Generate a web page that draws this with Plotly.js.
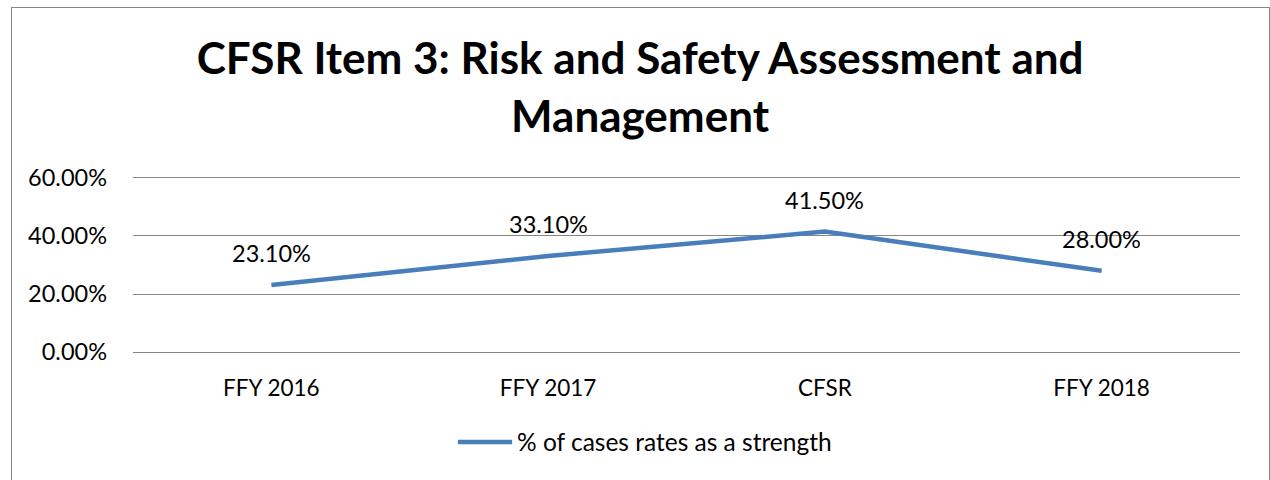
<!DOCTYPE html>
<html>
<head>
<meta charset="utf-8">
<script src="https://cdn.plot.ly/plotly-3.0.1.min.js"></script>
<style>
html,body{margin:0;padding:0;background:#fff;}
#chart{position:absolute;left:0;top:0;width:1270px;height:480px;}
#frame{position:absolute;left:11px;top:7px;width:1257px;height:520px;border:1px solid #868686;pointer-events:none;}
</style>
</head>
<body>
<div id="chart"></div>
<div id="frame"></div>
<script>
const categories = ["FFY 2016", "FFY 2017", "CFSR", "FFY 2018"];
const values = [0.231, 0.331, 0.415, 0.28];
const labels = ["23.10%", "33.10%", "41.50%", "28.00%"];
const seriesName = "% of cases rates as a strength";
const titleText = "CFSR Item 3: Risk and Safety Assessment and<br>Management";

const FONT = "Lato, 'Open Sans', sans-serif";

const trace = {
  x: categories,
  y: values,
  type: "scatter",
  mode: "lines",
  name: seriesName,
  line: {color: "#4a7ebb", width: 4.5},
  hoverinfo: "skip",
  showlegend: false
};

const annotations = categories.map((c, i) => ({
  x: c, y: values[i], xref: "x", yref: "y",
  text: labels[i], showarrow: false, yshift: 32,
  font: {family: FONT, size: 23.5, color: "#000"}
}));

annotations.push({
  xref: "paper", yref: "paper", x: 0.3448, y: -0.483,
  xanchor: "left", yanchor: "middle",
  text: seriesName, showarrow: false,
  font: {family: FONT, size: 24.5, color: "#000"}
});

const layout = {
  width: 1270, height: 480,
  margin: {l: 133, r: 30, t: 175, b: 125},
  paper_bgcolor: "#fff", plot_bgcolor: "#fff",
  title: {
    text: titleText,
    x: 0.504, xanchor: "center",
    y: 0.845, yanchor: "middle",
    font: {family: FONT, size: 44, color: "#000", weight: "bold"}
  },
  xaxis: {
    type: "category",
    range: [-0.5, 3.5],
    showgrid: false, zeroline: false, showline: false,
    ticks: "", ticklabelstandoff: 17,
    tickfont: {family: FONT, size: 22.5, color: "#000"}
  },
  yaxis: {
    range: [-0.01, 0.61],
    dtick: 0.2, tick0: 0,
    tickformat: ".2%",
    showgrid: true, gridcolor: "#868686", gridwidth: 1,
    zeroline: false, showline: false,
    ticks: "", ticklabelstandoff: 25,
    tickfont: {family: FONT, size: 23.5, color: "#000"}
  },
  shapes: [{
    type: "line", xref: "paper", yref: "paper",
    x0: 0.2935, x1: 0.3425, y0: -0.483, y1: -0.483,
    line: {color: "#4a7ebb", width: 4.5}
  }],
  annotations: annotations,
  showlegend: false
};

Plotly.newPlot("chart", [trace], layout, {displayModeBar: false, staticPlot: true});
</script>
</body>
</html>
